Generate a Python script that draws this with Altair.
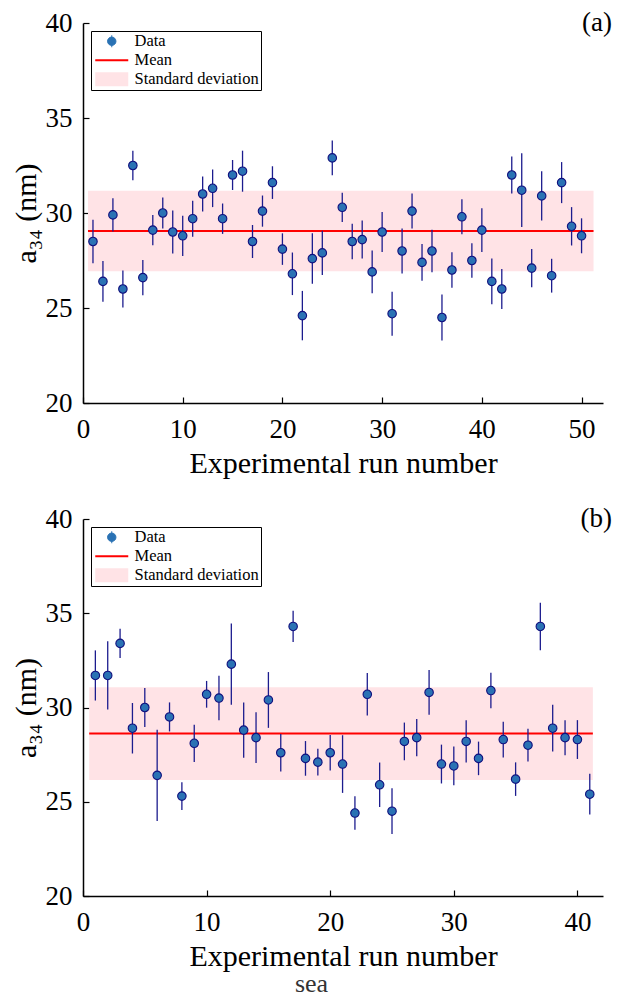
import altair as alt
import pandas as pd

# ---------------- data ----------------
a_runs = list(range(1, 51))
a_vals = [28.5, 26.4, 29.9, 26.0, 32.5, 26.6, 29.1, 30.0, 29.0, 28.8,
          29.7, 31.0, 31.3, 29.7, 32.0, 32.2, 28.5, 30.1, 31.6, 28.1,
          26.8, 24.6, 27.6, 27.9, 32.9, 30.3, 28.5, 28.6, 26.9, 29.0,
          24.7, 28.0, 30.1, 27.4, 28.0, 24.5, 27.0, 29.8, 27.5, 29.1,
          26.4, 26.0, 32.0, 31.2, 27.1, 30.9, 26.7, 31.6, 29.3, 28.8]
a_errs = [1.15, 1.07, 0.87, 0.97, 0.77, 0.93, 0.80, 0.82, 1.13, 1.06,
          0.95, 0.92, 0.99, 0.80, 0.79, 1.08, 0.87, 0.82, 0.86, 0.83,
          1.12, 1.30, 1.33, 1.16, 0.91, 0.77, 0.93, 1.00, 1.12, 1.05,
          1.16, 1.19, 0.92, 0.97, 1.12, 1.21, 0.94, 0.92, 0.91, 1.15,
          1.20, 1.05, 0.97, 1.94, 1.01, 1.30, 0.89, 1.08, 1.01, 0.92]
a_mean, a_std = 29.05, 2.12
a_band_x = [0.5, 51.2]

b_runs = list(range(1, 42))
b_vals = [31.7, 31.7, 33.4, 28.9, 30.0, 26.4, 29.5, 25.3, 28.1, 30.7,
          30.5, 32.3, 28.8, 28.4, 30.4, 27.6, 34.3, 27.3, 27.1, 27.6,
          27.0, 24.4, 30.7, 25.9, 24.5, 28.2, 28.4, 30.8, 27.0, 26.9,
          28.2, 27.3, 30.9, 28.3, 26.2, 28.0, 34.3, 28.9, 28.4, 28.3, 25.4]
b_errs = [1.33, 1.81, 0.78, 1.34, 1.04, 2.42, 0.77, 0.74, 0.99, 0.71,
          1.18, 2.15, 1.46, 1.35, 1.48, 1.00, 0.83, 0.92, 0.71, 0.94,
          1.53, 0.89, 1.13, 1.18, 1.21, 1.00, 0.99, 1.19, 1.03, 1.03,
          1.12, 0.89, 0.94, 0.95, 0.89, 0.87, 1.26, 1.24, 0.93, 1.03, 1.08]
b_mean, b_std = 28.62, 2.46
b_band_x = [0.5, 41.25]

kinds = ["Data", "Mean", "Standard deviation"]
y_ticks = [20, 25, 30, 35, 40]

# ---------------- style ----------------
FONT = "Liberation Serif, DejaVu Serif, serif"
PT_FILL = "#2a72b4"
PT_STROKE = "#10107e"
BAR_COLOR = "#1c1c8e"
MEAN_COLOR = "#ff0000"
BAND_COLOR = "#ffe3e6"
W = 520

sym_shape = ("datum.value === 'Data' ? "
             "'M1.75,-1V1M2.45,0A0.7,0.7,0,1,1,1.05,0A0.7,0.7,0,1,1,2.45,0Z' : "
             "datum.value === 'Mean' ? 'M-1,0H4.5' : 'M-1,-1.15H4.5V1.15H-1Z'")
sym_fill = (f"datum.value === 'Data' ? '{PT_FILL}' : "
            f"datum.value === 'Mean' ? 'transparent' : '{BAND_COLOR}'")
sym_stroke = (f"datum.value === 'Data' ? '{PT_STROKE}' : "
              f"datum.value === 'Mean' ? '{MEAN_COLOR}' : '{BAND_COLOR}'")
sym_sw = "datum.value === 'Data' ? 1 : datum.value === 'Mean' ? 2 : 0.01"

legend = alt.Legend(
    title=None, orient="top-left", offset=8,
    strokeColor="black", fillColor="white", padding=2,
    labelFont=FONT, labelFontSize=16.5, labelColor="black",
    symbolSize=144, labelOffset=25, rowPadding=2,
    symbolType=alt.ExprRef(sym_shape),
    symbolFillColor=alt.ExprRef(sym_fill),
    symbolStrokeColor=alt.ExprRef(sym_stroke),
    symbolStrokeWidth=alt.ExprRef(sym_sw),
    symbolOpacity=1,
)


def color():
    return alt.Color(
        "kind:N",
        scale=alt.Scale(domain=kinds, range=[PT_FILL, MEAN_COLOR, BAND_COLOR]),
        legend=legend,
    )


def panel(runs, vals, errs, mean, std, band_x, xmax, xticks, tag, h):
    pts = pd.DataFrame({
        "run": runs, "val": vals,
        "lo": [v - e for v, e in zip(vals, errs)],
        "hi": [v + e for v, e in zip(vals, errs)],
        "kind": "Data",
    })
    band = pd.DataFrame({"run": [band_x[0]], "run2": [band_x[1]],
                         "val": [mean - std], "val2": [mean + std],
                         "kind": ["Standard deviation"]})
    mline = pd.DataFrame({"run": [band_x[0]], "run2": [band_x[1]],
                          "val": [mean], "kind": ["Mean"]})
    lab = pd.DataFrame({"label": [tag]})

    common = dict(tickSize=alt.ExprRef("-6"), labelFlush=False,
                  labelOverlap=False, labelFont=FONT, titleFont=FONT,
                  labelFontSize=27, titleFontSize=30, labelColor="black",
                  titleColor="black", titleFontWeight="normal",
                  domainColor="black", domainWidth=1.5, tickColor="black",
                  tickWidth=1.2, grid=False)
    xaxis = alt.Axis(values=xticks, labelPadding=19, titlePadding=6, **common)
    yaxis = alt.Axis(values=y_ticks, labelPadding=17, titlePadding=4, **common)
    xs = alt.Scale(domain=[0, xmax], nice=False, zero=False)
    ys = alt.Scale(domain=[20, 40], nice=False, zero=False)

    def X(f="run"):
        return alt.X(f"{f}:Q", scale=xs, axis=xaxis,
                     title="Experimental run number")

    def Y(f="val"):
        return alt.Y(f"{f}:Q", scale=ys, axis=yaxis, title="a₃₄ (nm)")

    band_l = alt.Chart(band).mark_rect(opacity=1).encode(
        x=X(), x2="run2:Q", y=Y(), y2="val2:Q", color=color())
    mean_l = alt.Chart(mline).mark_rule(strokeWidth=2).encode(
        x=X(), x2="run2:Q", y=Y(), color=color())
    err_l = alt.Chart(pts).mark_rule(color=BAR_COLOR, strokeWidth=1.3).encode(
        x=X(), y=Y("lo"), y2="hi:Q")
    pt_l = alt.Chart(pts).mark_point(filled=True, size=72, opacity=1,
                                     stroke=PT_STROKE, strokeWidth=1.1).encode(
        x=X(), y=Y(), color=color())
    tag_l = alt.Chart(lab).mark_text(
        align="right", baseline="middle", font=FONT, fontSize=27,
        color="black").encode(
        x=alt.value(W + 9), y=alt.value(0), text="label:N")
    return alt.layer(band_l, mean_l, err_l, pt_l, tag_l).properties(
        width=W, height=h)


pa = panel(a_runs, a_vals, a_errs, a_mean, a_std, a_band_x, 52.15,
           [0, 10, 20, 30, 40, 50], "(a)", 380)
pb = panel(b_runs, b_vals, b_errs, b_mean, b_std, b_band_x, 42.07,
           [0, 10, 20, 30, 40], "(b)", 377)

chart = alt.vconcat(
    pa, pb, spacing=27,
    title=alt.TitleParams("sea", orient="bottom", anchor="middle",
                          font=FONT, fontSize=26, fontWeight="normal",
                          color="#333333", offset=0),
).resolve_scale(color="independent", x="independent").properties(
    padding={"left": 3, "top": 1, "right": 0, "bottom": 0}
).configure(font=FONT).configure_view(stroke=None)

chart.save("out.html", embed_options={"renderer": "svg", "actions": False})
